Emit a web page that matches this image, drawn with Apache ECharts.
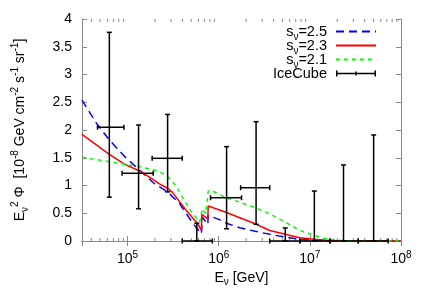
<!DOCTYPE html>
<html><head><meta charset="utf-8">
<script src="https://cdn.jsdelivr.net/npm/echarts@6/dist/echarts.min.js"></script>
<style>html,body{margin:0;padding:0;background:#fff}#c{width:436px;height:305px}</style>
</head><body><div id="c"></div>
<script>
// ---- data (energies in GeV, flux in 1e-8 GeV cm^-2 s^-1 sr^-1) ----
const energyS25 = [3.16e4,4.57e4,6.31e4,9.33e4,1.35e5,1.95e5,2.75e5,3.72e5,5.25e5,6.46e5,6.61e5,7.59e5,7.67e5,1.0e6,1.26e6,1.70e6,2.51e6,3.63e6,5.37e6,7.76e6,1.12e7,1.66e7,1.0e8];
const fluxS25   = [2.54,2.12,1.82,1.52,1.28,1.04,0.885,0.675,0.31,0.13,0.43,0.30,0.46,0.39,0.31,0.24,0.175,0.12,0.07,0.03,0.01,0.0,0.0];

const energyS23 = [3.16e4,4.47e4,6.31e4,9.33e4,1.32e5,1.74e5,2.24e5,2.75e5,3.09e5,4.37e5,5.89e5,6.46e5,6.53e5,7.59e5,7.67e5,1.26e6,1.70e6,2.51e6,3.63e6,5.37e6,7.76e6,1.12e7,1.66e7,2.51e7,1.0e8];
const fluxS23   = [1.92,1.74,1.56,1.38,1.27,1.15,1.03,0.95,0.88,0.56,0.31,0.19,0.48,0.40,0.63,0.505,0.42,0.31,0.19,0.12,0.06,0.03,0.01,0.0,0.0];

const energyS21 = [3.16e4,6.31e4,1.35e5,1.95e5,2.24e5,2.75e5,3.39e5,3.98e5,4.90e5,6.17e5,6.61e5,7.24e5,7.67e5,8.32e5,1.26e6,1.70e6,2.51e6,3.63e6,5.37e6,7.76e6,1.12e7,1.51e7,2.24e7,3.16e7,1.0e8];
const fluxS21   = [1.51,1.43,1.34,1.28,1.25,1.16,1.00,0.79,0.55,0.34,0.58,0.49,0.90,0.91,0.765,0.70,0.60,0.49,0.34,0.19,0.10,0.04,0.01,0.0,0.0];

const iceEnergy = [6.31e4,1.32e5,2.75e5,5.75e5,1.22e6,2.57e6,5.37e6,1.12e7,2.34e7,5.01e7];
const iceELow   = [4.68e4,8.71e4,1.86e5,3.98e5,8.13e5,1.74e6,3.63e6,7.76e6,1.66e7,3.39e7];
const iceEHigh  = [9.12e4,1.91e5,3.98e5,8.51e5,1.78e6,3.63e6,7.76e6,1.66e7,3.39e7,7.24e7];
const iceFlux   = [2.05,1.22,1.49,0,0.78,0.96,0,0,0,0];
const iceLow    = [0.79,0.58,0.885,0,0.22,0.30,0,0,0,0];
const iceHigh   = [3.76,2.09,2.28,0.32,1.70,2.15,0.235,0.90,1.37,1.91];

const xMinorTicks = [4e4,5e4,6e4,7e4,8e4,9e4,2e5,3e5,4e5,5e5,6e5,7e5,8e5,9e5,2e6,3e6,4e6,5e6,6e6,7e6,8e6,9e6,2e7,3e7,4e7,5e7,6e7,7e7,8e7,9e7];
const legendLabels = {
  s25: 's{sub|ν}=2.5', s23: 's{sub|ν}=2.3', s21: 's{sub|ν}=2.1', ice: 'IceCube'
};

// ---- chart ----
const FONT = '"Liberation Sans", Arial, Helvetica, sans-serif';
const AXIS_COLOR = '#888';
const chart = echarts.init(document.getElementById('c'), null, {renderer: 'canvas'});

const zip = (xs, ys) => xs.map((x, i) => [x, ys[i]]);
const iceData = iceEnergy.map((e, i) => [e, iceFlux[i], iceLow[i], iceHigh[i], iceELow[i], iceEHigh[i]]);

function xLabel(v) {
  const l = Math.log10(v), e = Math.round(l);
  if (Math.abs(l - e) > 1e-6) return '';
  return '{b|10}{sup|' + e + '}';
}

const xAxisBase = {
  type: 'log', logBase: 10, min: 31622.7766, max: 1e8,
  axisLine: {show: true, lineStyle: {color: AXIS_COLOR, width: 1}},
  axisTick: {show: true, inside: true, length: 5, lineStyle: {color: AXIS_COLOR}},
  splitLine: {show: false}, minorTick: {show: false}, minorSplitLine: {show: false}
};
const yAxisBase = {
  type: 'value', min: 0, max: 4, interval: 0.5,
  axisLine: {show: true, lineStyle: {color: AXIS_COLOR, width: 1}},
  axisTick: {show: true, inside: true, length: 5, lineStyle: {color: AXIS_COLOR}},
  splitLine: {show: false}
};

const option = {
  animation: false,
  backgroundColor: '#fff',
  textStyle: {fontFamily: FONT},
  grid: {left: 82, right: 35, top: 19, bottom: 64, containLabel: false},
  legend: {
    orient: 'vertical', right: 54, top: 19, align: 'right',
    itemWidth: 40, itemHeight: 10, itemGap: -4, selectedMode: false,
    formatter: name => legendLabels[name],
    textStyle: {
      fontFamily: FONT, fontSize: 14.5, color: '#000', padding: [0, 4, 0, 0],
      rich: {
        sub: {fontFamily: FONT, fontSize: 10, color: '#000', verticalAlign: 'bottom', padding: [0, 0, -3, 0]}
      }
    },
    data: [
      {name: 's25', itemStyle: {opacity: 0}},
      {name: 's23', itemStyle: {opacity: 0}},
      {name: 's21', itemStyle: {opacity: 0}},
      {name: 'ice', icon: 'path://M0,4.25h40v1.5h-40z M0,2h1.5v6h-1.5z M19.25,3h1.5v4h-1.5z M38.5,2h1.5v6h-1.5z', itemStyle: {color: '#000'}}
    ]
  },
  xAxis: [
    Object.assign({}, xAxisBase, {
      position: 'bottom',
      name: '{n|E}{sub|ν}{n| [GeV]}', nameLocation: 'middle', nameGap: 28,
      nameTextStyle: {
        fontFamily: FONT, fontSize: 14, color: '#000',
        rich: {
          n: {fontFamily: FONT, fontSize: 14, color: '#000', lineHeight: 18, verticalAlign: 'middle'},
          sub: {fontFamily: FONT, fontSize: 10, color: '#000', lineHeight: 10, verticalAlign: 'bottom'}
        }
      },
      axisLabel: {
        show: true, margin: 9, formatter: xLabel, showMinLabel: true, showMaxLabel: true,
        rich: {
          b: {fontFamily: FONT, fontSize: 14, color: '#000', lineHeight: 18, verticalAlign: 'middle'},
          sup: {fontFamily: FONT, fontSize: 10, color: '#000', lineHeight: 10, verticalAlign: 'top'}
        }
      }
    }),
    Object.assign({}, xAxisBase, {position: 'top', axisLabel: {show: false}})
  ],
  yAxis: [
    Object.assign({}, yAxisBase, {
      position: 'left',
      name: '{n|E}{sub|ν}{sup|2}{n| Φ  [10}{sup|-8}{n| GeV cm}{sup|-2}{n| s}{sup|-1}{n| sr}{sup|-1}{n|]}',
      nameLocation: 'middle', nameGap: 52, nameRotate: 90,
      nameTextStyle: {
        fontFamily: FONT, fontSize: 14, color: '#000',
        rich: {
          n: {fontFamily: FONT, fontSize: 14, color: '#000', lineHeight: 20, verticalAlign: 'middle'},
          sub: {fontFamily: FONT, fontSize: 10, color: '#000', lineHeight: 10, verticalAlign: 'bottom'},
          sup: {fontFamily: FONT, fontSize: 10, color: '#000', lineHeight: 10, verticalAlign: 'top'}
        }
      },
      axisLabel: {show: true, margin: 10, fontFamily: FONT, fontSize: 14, color: '#000'}
    }),
    Object.assign({}, yAxisBase, {position: 'right', axisLabel: {show: false}})
  ],
  series: [
    {
      name: 's25', type: 'line', xAxisIndex: 0, yAxisIndex: 0, data: zip(energyS25, fluxS25),
      symbol: 'none', showSymbol: false, smooth: false, clip: true,
      lineStyle: {color: '#0000ff', width: 1.5, type: [8, 5]}, itemStyle: {color: '#0000ff'}, z: 3
    },
    {
      name: 's23', type: 'line', xAxisIndex: 0, yAxisIndex: 0, data: zip(energyS23, fluxS23),
      symbol: 'none', showSymbol: false, smooth: false, clip: true,
      lineStyle: {color: '#ff0000', width: 1.5, type: 'solid'}, itemStyle: {color: '#ff0000'}, z: 3
    },
    {
      name: 's21', type: 'line', xAxisIndex: 0, yAxisIndex: 0, data: zip(energyS21, fluxS21),
      symbol: 'none', showSymbol: false, smooth: false, clip: true,
      lineStyle: {color: '#00ff00', width: 1.5, type: [4, 4]}, itemStyle: {color: '#00ff00'}, z: 3
    },
    {
      name: 'ice', type: 'custom', xAxisIndex: 0, yAxisIndex: 0, data: iceData,
      encode: {x: 0, y: 1}, itemStyle: {color: '#000'}, z: 4, clip: false,
      renderItem: function (params, api) {
        const e = api.value(0), v = api.value(1), lo = api.value(2), hi = api.value(3), el = api.value(4), eh = api.value(5);
        const pLo = api.coord([e, lo]), pHi = api.coord([e, hi]);
        const pL = api.coord([el, v]), pR = api.coord([eh, v]);
        const c = 2.5;
        const st = {stroke: '#000', lineWidth: 1.5, fill: null};
        const ln = (x1, y1, x2, y2) => ({type: 'line', shape: {x1, y1, x2, y2}, style: st});
        return {type: 'group', children: [
          ln(pLo[0], pLo[1], pHi[0], pHi[1]),
          ln(pHi[0] - c, pHi[1], pHi[0] + c, pHi[1]),
          ln(pLo[0] - c, pLo[1], pLo[0] + c, pLo[1]),
          ln(pL[0], pL[1], pR[0], pR[1]),
          ln(pL[0], pL[1] - c, pL[0], pL[1] + c),
          ln(pR[0], pR[1] - c, pR[0], pR[1] + c)
        ]};
      }
    },
    {
      name: 'minorTicks', type: 'custom', xAxisIndex: 0, yAxisIndex: 0, silent: true,
      data: xMinorTicks.map(v => [v, 0]), encode: {x: 0, y: 1}, z: 2, clip: false,
      renderItem: function (params, api) {
        const p = api.coord([api.value(0), 0]);
        const cs = params.coordSys;
        const st = {stroke: AXIS_COLOR, lineWidth: 1};
        return {type: 'group', children: [
          {type: 'line', shape: {x1: p[0], y1: cs.y + cs.height, x2: p[0], y2: cs.y + cs.height - 3}, style: st},
          {type: 'line', shape: {x1: p[0], y1: cs.y, x2: p[0], y2: cs.y + 3}, style: st}
        ]};
      }
    }
  ]
};
chart.setOption(option);
</script>
</body></html>
